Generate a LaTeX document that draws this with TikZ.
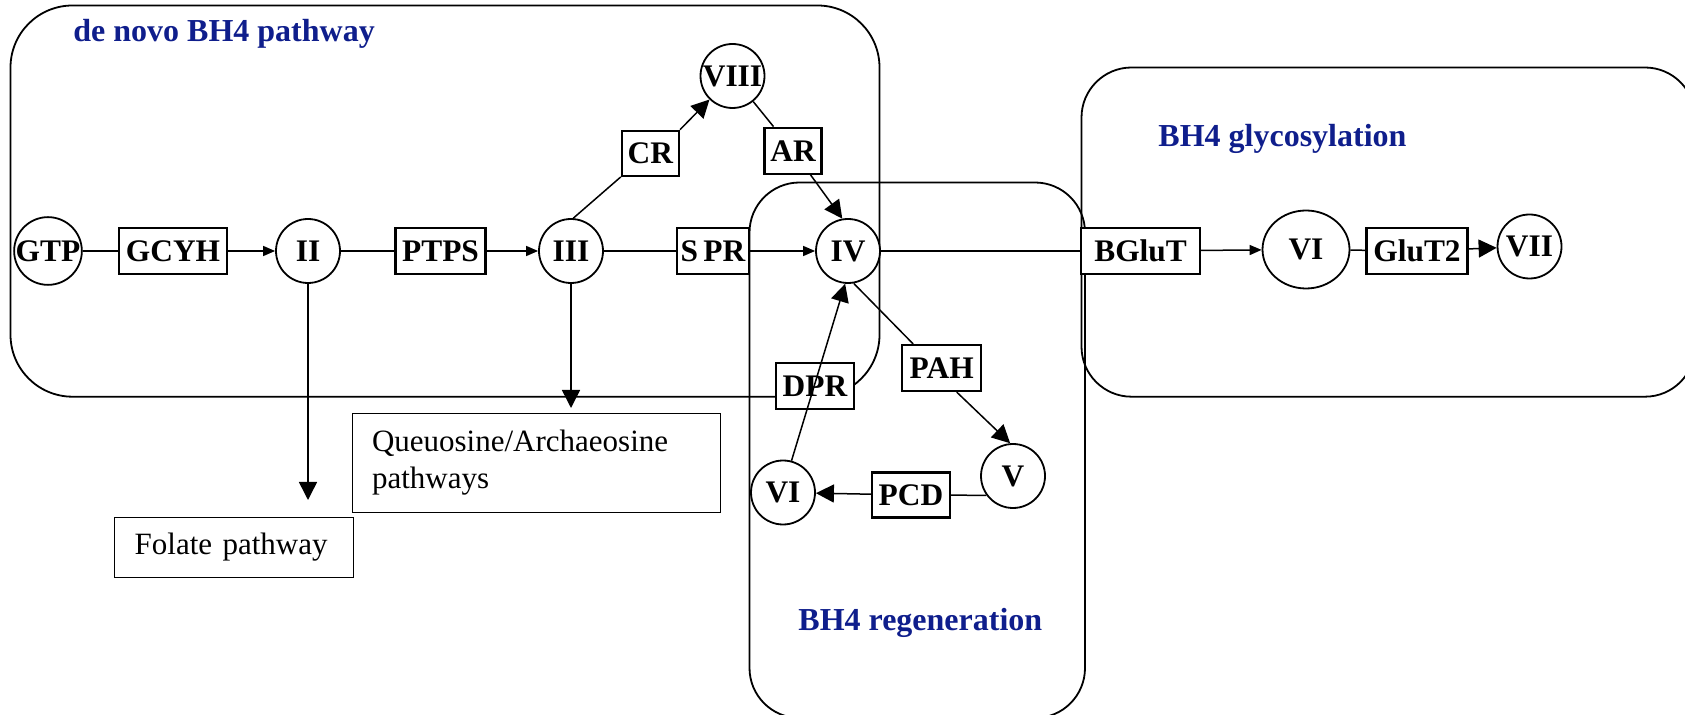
\documentclass[tikz,border=0pt]{standalone}
\usepackage{fontspec}
\setmainfont{Liberation Serif}
\usetikzlibrary{arrows.meta,calc,shapes.geometric}
\definecolor{ttlblue}{RGB}{15,30,140}
\begin{document}
\begin{tikzpicture}[x=0.5pt,y=-0.5pt,
  grp/.style={draw, line width=0.9pt},
  enz/.style={draw, rectangle, line width=1.1pt, fill=white, inner sep=0pt, minimum height=23pt, font=\bfseries\fontsize{15.7}{18}\selectfont},
  met/.style={draw, circle, line width=0.9pt, fill=white, inner sep=0pt, minimum size=32pt, font=\bfseries\fontsize{15.7}{18}\selectfont},
  ttl/.style={anchor=base west, inner sep=0pt, text=ttlblue, font=\bfseries\fontsize{16}{19}\selectfont},
  ext/.style={draw, rectangle, line width=0.75pt, fill=white, align=left, font=\fontsize{15.5}{18.5}\selectfont},
  con/.style={line width=0.75pt},
  sarr/.style={con, -{Triangle[length=6pt,width=5pt]}},
  larr/.style={con, -{Triangle[length=9pt,width=9pt]}}]
\useasboundingbox (0,0) rectangle (1685,715);
\clip (0,0) rectangle (1685,715);
% group boxes
\draw[grp, rounded corners=31pt] (10.5,5.5) rectangle (879.5,396.7);
\draw[grp, rounded corners=25pt] (749.5,182.5) rectangle (1085,718);
\draw[grp, rounded corners=25pt] (1081.5,67.5) rectangle (1695,396.7);
% titles
\node[ttl] (tdn) at (73,42) {de novo BH4 pathway};
\node[ttl] (tgl) at (1158,147) {BH4 glycosylation};
\node[ttl] (trg) at (798,630) {BH4 regeneration};
% nodes
\node[met] (GTP) at (48,251) {GTP};
\node[enz, minimum width=53.7pt] (GCYH) at (173,251) {GCYH};
\node[met] (II) at (308,251) {II};
\node[enz, minimum width=45pt] (PTPS) at (440.5,251) {PTPS};
\node[met] (III) at (571,251) {III};
\node[enz, minimum width=36pt] (SPR) at (713,251) {S\,PR};
\node[met] (IV) at (848,251) {IV};
\node[met] (VIII) at (732.5,76) {VIII};
\node[enz, minimum width=28.5pt, minimum height=22.5pt] (CR) at (650.4,153.3) {CR};
\node[enz, minimum width=28.5pt] (AR) at (793,150.7) {AR};
\node[enz, minimum width=39pt] (DPR) at (815,386) {DPR};
\node[enz, minimum width=59.5pt] (BGluT) at (1140.6,251) {BGluT};
\node[met, ellipse, minimum width=43.5pt, minimum height=39pt] (VIr) at (1306,249.5) {VI};
\node[enz, minimum width=50.5pt] (GluT2) at (1417,251) {GluT2};
\node[met] (VII) at (1529.5,246.5) {VII};
\node[enz, minimum width=39.5pt] (PAH) at (941.7,368) {PAH};
\node[met] (VIl) at (783,492.5) {VI};
\node[enz, minimum width=39pt, minimum height=22.5pt] (PCD) at (911,495) {PCD};
\node[met] (V) at (1013,476) {V};
\node[ext, text width=164.5pt, inner xsep=9.75pt, minimum height=49.5pt] (Q) at (536.5,462.8) {Queuosine/Archaeosine\\pathways};
\node[ext, text width=99.5pt, inner xsep=10pt, minimum height=30.2pt] (F) at (234.2,547.5) {Folate pathway};
% connectors
\coordinate (folEnd) at (308,500);
\coordinate (queEnd) at (571,408);
\draw[con] (GTP) -- (GCYH);
\draw[sarr] (GCYH) -- (II);
\draw[con] (II) -- (PTPS);
\draw[sarr] (PTPS) -- (III);
\draw[con] (III) -- (SPR);
\draw[sarr] (SPR) -- (IV);
\draw[con] (III.86) -- (CR.south west);
\draw[larr] (CR.north east) -- (VIII);
\draw[con] (VIII) -- (AR);
\draw[larr] (AR) -- (IV.100);
\draw[con] (IV) -- (BGluT);
\draw[sarr] (BGluT) -- (VIr);
\draw[con] (VIr) -- (GluT2);
\draw[larr] (GluT2) -- (VII);
\draw[con] (IV.-80) -- ($(PAH.north west)+(12,0)$);
\draw[larr] ($(PAH.south)+(15,0)$) -- (V.95);
\draw[con] (V.216) -- (PCD);
\draw[larr] (PCD) -- (VIl);
\draw[larr] (VIl.75) -- (IV.-95);
\draw[larr] (II) -- (folEnd);
\draw[larr] (III) -- (queEnd);
\end{tikzpicture}
\end{document}
